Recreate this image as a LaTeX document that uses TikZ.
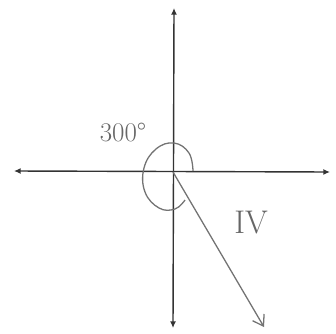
\documentclass[tikz,border=0pt]{standalone}
\usepackage{xcolor}
\usepackage{tikz}
\usetikzlibrary{arrows.meta,positioning,calc}

\begin{document}
\begin{tikzpicture}[
  x=0.03cm, y=-0.03cm,
  axis/.style={{Latex[length=2mm,width=1.8mm]}-{Latex[length=2mm,width=1.8mm]}, line width=1.2pt, draw=black!80},
  ray/.style={-{Straight Barb[length=3mm,width=4mm]}, line width=1.1pt, draw=black!55},
  turn/.style={line width=1.1pt, draw=black!55},
  lbl/.style={text=black!60, inner sep=0pt}
]
\useasboundingbox (0,0) rectangle (336,333);
\coordinate (O) at (173,172);
\coordinate (xl) at (14,171);
\coordinate (xr) at (330,172);
\coordinate (yt) at (174,8);
\coordinate (yb) at (173,328);
\coordinate (tip) at (264,327);
\draw[axis] (xl) -- (xr);
\draw[axis] (yb) -- (yt);
\draw[ray] (O) -- (tip);
\draw[turn] plot[smooth, tension=0.7] coordinates {(193,171) (189,153) (174,143) (156,149) (144,168) (145,192) (159,208) (175,209) (185,200)};
\node[lbl, font=\fontsize{23}{26}\selectfont] (angle) at (123,133) {300\textdegree};
\node[lbl, font=\fontsize{28}{30}\selectfont] (quad) at (251,223) {IV};
\end{tikzpicture}
\end{document}
